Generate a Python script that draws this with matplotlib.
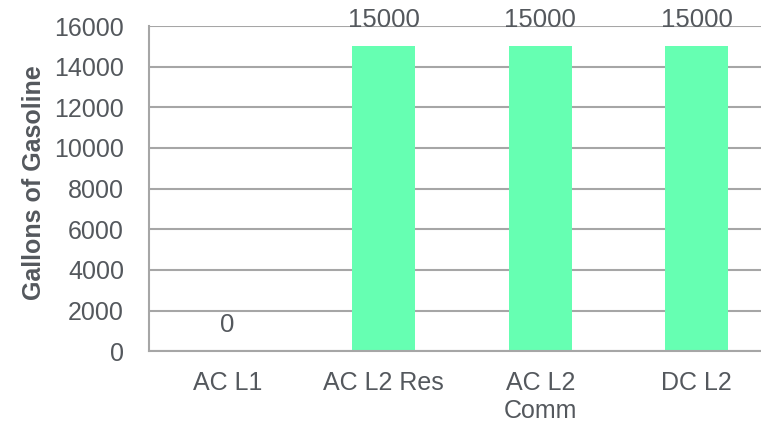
import matplotlib
matplotlib.use("Agg")
import matplotlib.pyplot as plt

plt.rcParams['font.family'] = ['Liberation Sans', 'DejaVu Sans']

categories = ["AC L1", "AC L2 Res", "AC L2\nComm", "DC L2"]
gallons = [0, 15000, 15000, 15000]
y_ticks = [0, 2000, 4000, 6000, 8000, 10000, 12000, 14000, 16000]

text_color = "#54585D"
grid_color = "#A6A6A6"
bar_color = "#66FFB2"

fig = plt.figure(figsize=(7.61, 4.25), dpi=100)
ax = fig.add_axes([0.1958, 0.1734, 0.8226, 0.7654])

x = range(len(categories))
bars = ax.bar(x, gallons, width=0.4, color=bar_color, zorder=2)

ax.set_xlim(-0.5, len(categories) - 0.5)
ax.set_ylim(0, 16000)
ax.set_yticks(y_ticks)
ax.set_xticks(list(x))
ax.set_xticklabels(categories)

ax.yaxis.grid(True, color=grid_color, linewidth=1.5, zorder=0)
ax.set_axisbelow(True)
for side in ("top", "right"):
    ax.spines[side].set_visible(False)
for side in ("left", "bottom"):
    ax.spines[side].set_color(grid_color)
    ax.spines[side].set_linewidth(1.5)

ax.tick_params(axis="y", length=0, pad=18, labelsize=18, labelcolor=text_color)
ax.tick_params(axis="x", length=0, pad=14, labelsize=18, labelcolor=text_color)

for rect, val in zip(bars, gallons):
    ax.annotate(f"{val}", xy=(rect.get_x() + rect.get_width() / 2, val),
                xytext=(0, 19), textcoords="offset points",
                ha="center", va="center", fontsize=18.5, color=text_color,
                zorder=3)

fig.text(34 / 761, 0.5706, "Gallons of Gasoline", rotation=90,
         ha="center", va="center", fontsize=18, fontweight="bold",
         color=text_color)

fig.savefig("out.png", dpi=100)
